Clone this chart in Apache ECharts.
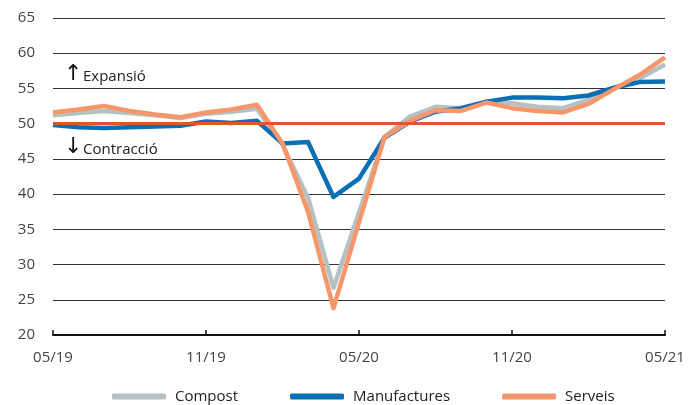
<!DOCTYPE html>
<html>
<head>
<meta charset="utf-8">
<script src="https://cdn.jsdelivr.net/npm/echarts@6/dist/echarts.min.js"></script>
<style>
  html, body { margin: 0; padding: 0; background: #fff; }
  #chart { width: 699px; height: 405px; }
</style>
</head>
<body>
<div id="chart"></div>
<script>
// months 05/19 .. 05/21
var months = ['05/19', '06/19', '07/19', '08/19', '09/19', '10/19', '11/19', '12/19',
  '01/20', '02/20', '03/20', '04/20', '05/20', '06/20', '07/20', '08/20', '09/20',
  '10/20', '11/20', '12/20', '01/21', '02/21', '03/21', '04/21', '05/21']

var compost = [51.2, 51.5, 51.8, 51.5, 51.2, 50.8, 51.4, 51.7, 52.1, 47.0, 39.5, 26.7,
  37.4, 48.1, 51.0, 52.4, 52.2, 53.2, 52.9, 52.4, 52.2, 53.4, 55.1, 56.4, 58.4]
var manufactures = [49.8, 49.5, 49.4, 49.5, 49.6, 49.7, 50.3, 50.1, 50.4, 47.2, 47.4, 39.6,
  42.2, 48.0, 50.3, 51.7, 52.2, 53.1, 53.7, 53.7, 53.6, 54.0, 55.1, 55.9, 56.0]
var serveis = [51.6, 52.0, 52.5, 51.8, 51.3, 50.9, 51.6, 52.0, 52.7, 47.2, 37.5, 23.8,
  36.0, 48.1, 50.4, 51.9, 51.8, 53.0, 52.2, 51.8, 51.6, 52.8, 54.9, 56.9, 59.4]
var threshold = 50

var chart = echarts.init(document.getElementById('chart'))

function lineSeries(name, data, color) {
  return {
    name: name,
    type: 'line',
    data: data,
    symbol: 'none',
    smooth: false,
    lineStyle: { color: color, width: 4.5, join: 'round' },
    itemStyle: { color: color },
    animation: false
  }
}

var series = [
  lineSeries('Compost', compost, '#b5c1c3'),
  lineSeries('Manufactures', manufactures, '#0b6fb5'),
  lineSeries('Serveis', serveis, '#f5976a')
]
series[2].markLine = {
  silent: true,
  symbol: ['none', 'none'],
  label: { show: false },
  lineStyle: { color: '#e2542b', width: 3, type: 'solid' },
  data: [{ yAxis: threshold }],
  animation: false
}

chart.setOption({
  textStyle: { fontFamily: 'Open Sans' },
  grid: { left: 53, right: 34, top: 18, bottom: 70, containLabel: false },
  legend: {
    bottom: -4,
    left: 107,
    itemWidth: 54,
    itemHeight: 6,
    itemGap: 52,
    icon: 'roundRect',
    textStyle: { fontSize: 15, color: '#222', padding: [0, 0, 0, 4] },
    data: ['Compost', 'Manufactures', 'Serveis']
  },
  xAxis: {
    type: 'category',
    data: months,
    boundaryGap: false,
    axisLine: { lineStyle: { color: '#111', width: 2 } },
    axisTick: { show: true, inside: true, length: 5, interval: 5, lineStyle: { color: '#111', width: 1.5 } },
    axisLabel: { interval: 5, color: '#444', fontSize: 15, margin: 15 },
    splitLine: { show: false }
  },
  yAxis: {
    type: 'value',
    min: 20,
    max: 65,
    interval: 5,
    axisLine: { show: false },
    axisTick: { show: false },
    axisLabel: { color: '#444', fontSize: 15, margin: 18 },
    splitLine: { lineStyle: { color: '#333', width: 1.2 } }
  },
  graphic: [
    { type: 'text', left: 64, top: 63, style: { text: '↑', fontSize: 22, fill: '#111', fontFamily: 'DejaVu Sans' } },
    { type: 'text', left: 83, top: 69, style: { text: 'Expansió', fontSize: 15, fill: '#222', fontFamily: 'Open Sans' } },
    { type: 'text', left: 64, top: 136, style: { text: '↓', fontSize: 22, fill: '#111', fontFamily: 'DejaVu Sans' } },
    { type: 'text', left: 83, top: 142, style: { text: 'Contracció', fontSize: 15, fill: '#222', fontFamily: 'Open Sans' } }
  ],
  series: series
})
</script>
</body>
</html>
